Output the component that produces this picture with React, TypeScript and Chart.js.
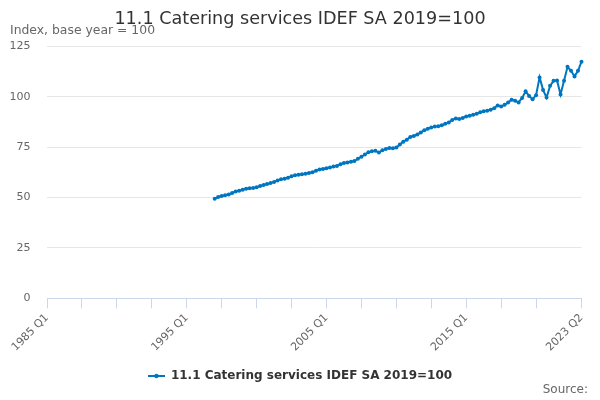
import React, { useEffect, useRef } from "react";
import { Chart, registerables } from "chart.js";

Chart.register(...registerables);

// ---- data ----
const firstYear = 1985;
const lastYear = 2023;
const lastQuarter = 2;
const quarterLabels: string[] = [];
for (let y = firstYear; y <= lastYear; y++) {
  for (let q = 1; q <= 4; q++) {
    if (y === lastYear && q > lastQuarter) break;
    quarterLabels.push(`${y} Q${q}`);
  }
}

const seriesName = "11.1 Catering services IDEF SA 2019=100";
const seriesStart = "1997 Q1";
// quarterly values from 1997 Q1 to 2023 Q2
const cateringValues: number[] = [
  49.4, 50.3, 50.8, 51.2, 51.6, 52.3, 53.0, 53.4, 53.9, 54.4,
  54.7, 54.8, 55.1, 55.8, 56.3, 56.8, 57.2, 57.8, 58.5, 59.1,
  59.4, 59.9, 60.6, 61.1, 61.4, 61.6, 61.8, 62.2, 62.6, 63.3,
  64.0, 64.2, 64.6, 65.0, 65.4, 65.7, 66.6, 67.2, 67.5, 67.8,
  68.2, 69.3, 70.3, 71.4, 72.5, 73.0, 73.3, 72.4, 73.5, 74.2,
  74.6, 74.5, 74.9, 76.4, 77.8, 78.8, 80.1, 80.6, 81.3, 82.4,
  83.4, 84.2, 84.8, 85.3, 85.5, 85.9, 86.7, 87.3, 88.6, 89.3,
  89.0, 89.6, 90.3, 90.6, 91.2, 91.6, 92.4, 92.9, 93.2, 93.6,
  94.4, 95.8, 95.3, 96.1, 97.3, 98.6, 98.1, 97.3, 99.5, 102.8,
  100.5, 98.8, 100.9, 109.7, 103.5, 99.7, 105.5, 108.0, 108.2, 101.2,
  108.0, 115.0, 113.0, 110.2, 113.0, 117.5,
];

const yMin = 0;
const yMax = 125;
const yStep = 25;
const labelEvery = 40;
const tickEvery = 10;

const titleText = "11.1 Catering services IDEF SA 2019=100";
const yAxisTitle = "Index, base year = 100";
const sourceText = "Source:";

const lineColor = "#0076c0";

export default function App() {
  const canvasRef = useRef<HTMLCanvasElement | null>(null);

  useEffect(() => {
    const canvas = canvasRef.current;
    if (!canvas) return;

    const startIdx = quarterLabels.indexOf(seriesStart);
    const data = quarterLabels.map((_, i) => {
      const k = i - startIdx;
      return k >= 0 && k < cateringValues.length ? cateringValues[k] : null;
    });
    const lastIdx = quarterLabels.length - 1;

    // legend symbol: line with a dot
    const sym = document.createElement("canvas");
    sym.width = 17;
    sym.height = 6;
    const sctx = sym.getContext("2d")!;
    sctx.strokeStyle = lineColor;
    sctx.lineWidth = 2;
    sctx.beginPath();
    sctx.moveTo(0, 3);
    sctx.lineTo(17, 3);
    sctx.stroke();
    sctx.fillStyle = lineColor;
    sctx.beginPath();
    sctx.arc(8.5, 3, 2.2, 0, Math.PI * 2);
    sctx.fill();

    const sourcePlugin = {
      id: "sourceText",
      afterLayout(chart: any) {
        // centre the legend and title on the full canvas width
        if (chart.legend) {
          chart.legend.left += 4.25;
          chart.legend.right += 4.25;
        }
        if (chart.titleBlock) {
          chart.titleBlock.left += 4.25;
          chart.titleBlock.right += 4.25;
        }
      },
      afterDraw(chart: any) {
        const ctx = chart.ctx;
        ctx.save();
        ctx.font = "12px 'DejaVu Sans'";
        ctx.fillStyle = "#666666";
        ctx.textAlign = "right";
        ctx.textBaseline = "middle";
        ctx.fillText(sourceText, 588, 390);
        ctx.restore();
      },
    };

    Chart.defaults.font.family = "'DejaVu Sans', sans-serif";

    const chart = new Chart(canvas, {
      type: "line",
      data: {
        labels: quarterLabels,
        datasets: [
          {
            label: seriesName,
            data,
            borderColor: lineColor,
            backgroundColor: lineColor,
            borderWidth: 2,
            pointRadius: 2,
            pointBorderWidth: 0,
            pointBackgroundColor: lineColor,
            pointHoverRadius: 3,
            tension: 0,
            spanGaps: false,
          },
        ],
      },
      options: {
        responsive: false,
        animation: false,
        layout: { padding: { left: 10, right: 18.5, top: 0, bottom: 8 } },
        plugins: {
          title: {
            display: true,
            text: titleText,
            color: "#333333",
            font: { size: 17.6, weight: "normal", lineHeight: 1.2 },
            padding: { top: 8.6, bottom: 0 },
          },
          subtitle: {
            display: true,
            text: yAxisTitle,
            align: "start",
            color: "#666666",
            font: { size: 12.4, weight: "normal", lineHeight: 1.2 },
            padding: { top: -6.2, bottom: 8.2 },
          },
          legend: {
            display: true,
            position: "bottom",
            labels: {
              color: "#333333",
              font: { size: 12, weight: "bold" },
              usePointStyle: true,
              pointStyleWidth: 17,
              padding: 10,
              generateLabels: (c: any) => {
                const items = Chart.defaults.plugins.legend.labels.generateLabels(c);
                return items.map((it: any) => ({ ...it, pointStyle: sym }));
              },
            },
          },
          tooltip: { enabled: false },
        },
        scales: {
          x: {
            type: "category",
            grid: {
              display: true,
              drawOnChartArea: false,
              drawTicks: true,
              tickLength: 10,
              color: "#ccd6eb",
            },
            border: { display: true, color: "#ccd6eb", width: 1 },
            ticks: {
              autoSkip: false,
              minRotation: 45,
              maxRotation: 45,
              padding: 3,
              color: "#666666",
              font: { size: 11 },
              callback: (_v: any, index: number) => {
                if (index % labelEvery === 0 || index === lastIdx) return quarterLabels[index];
                if (index % tickEvery === 0 && lastIdx - index >= tickEvery) return "";
                return null;
              },
            },
            afterFit: (s: any) => {
              s.height = 61.7;
            },
          },
          y: {
            min: yMin,
            max: yMax,
            grid: { color: "#e6e6e6", drawTicks: false },
            border: { display: false },
            ticks: {
              stepSize: yStep,
              padding: 16.5,
              color: "#666666",
              font: { size: 11 },
            },
            afterFit: (s: any) => {
              s.width = 37;
            },
          },
        },
      },
      plugins: [sourcePlugin],
    } as any);

    return () => chart.destroy();
  }, []);

  return (
    <div style={{ position: "absolute", left: 0, top: 0, width: 600, height: 400, background: "#fff" }}>
      <canvas ref={canvasRef} width={600} height={400} style={{ width: 600, height: 400 }} />
    </div>
  );
}
